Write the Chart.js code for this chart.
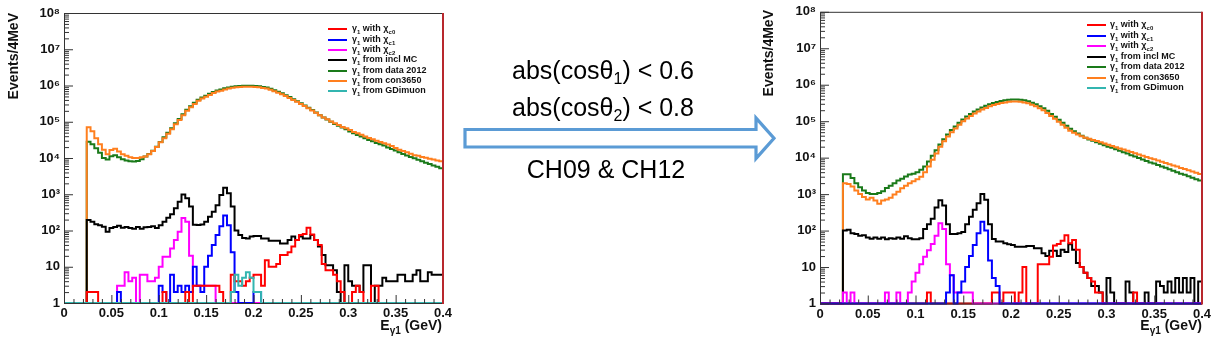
<!DOCTYPE html>
<html><head><meta charset="utf-8">
<script src="https://cdn.jsdelivr.net/npm/chart.js@4.4.1/dist/chart.umd.min.js"></script>
<style>
html,body{margin:0;padding:0;background:#fff;}
#wrap{position:relative;width:1219px;height:341px;overflow:hidden;font-family:'Liberation Sans',Arial,sans-serif;}
.pane{position:absolute;top:0;}
.ytitle{position:absolute;writing-mode:vertical-rl;transform:rotate(180deg);font:bold 14px 'Liberation Sans',Arial,sans-serif;white-space:nowrap;color:#111;}
.xtitle{position:absolute;font:bold 14px 'Liberation Sans',Arial,sans-serif;white-space:nowrap;color:#111;}
.xtitle sub{font-size:10px;vertical-align:-4px;line-height:0;}
.legline{position:absolute;height:2px;width:19px;}
.legtxt{position:absolute;font:bold 9px 'Liberation Sans',Arial,sans-serif;white-space:nowrap;color:#111;line-height:10px;}
.legtxt sub{font-size:6px;vertical-align:-3px;line-height:0;}
.note{position:absolute;font:25px 'Liberation Sans',Arial,sans-serif;line-height:25px;white-space:nowrap;transform:translateX(-50%);color:#000;}
.note sub{font-size:16px;vertical-align:-5px;line-height:0;}
</style></head>
<body><div id="wrap">
<div class="pane" style="left:0;width:460px;height:341px;"><canvas id="cL" width="460" height="341"></canvas></div>
<div class="pane" style="left:750px;width:469px;height:341px;"><canvas id="cR" width="469" height="341"></canvas></div>
<svg style="position:absolute;left:0;top:0" width="1219" height="341">
<polygon points="465,129.5 756,129.5 756,118 774,138.3 756,158.5 756,147 465,147" fill="#fff" stroke="#5b9bd5" stroke-width="3.2" stroke-linejoin="miter"/>
</svg>
<div class="note" style="left:603px;top:58px">abs(cosθ<sub>1</sub>) &lt; 0.6</div>
<div class="note" style="left:603px;top:95px">abs(cosθ<sub>2</sub>) &lt; 0.8</div>
<div class="note" style="left:606px;top:157px">CH09 &amp; CH12</div>
<div class="ytitle" style="left:5px;top:13px">Events/4MeV</div>
<div class="ytitle" style="left:760px;top:10px">Events/4MeV</div>
<div class="xtitle" style="right:777px;top:317px">E<sub>γ1</sub> (GeV)</div>
<div class="xtitle" style="right:17px;top:317px">E<sub>γ1</sub> (GeV)</div>
<div id="legL"></div><div id="legR"></div>
</div>
<script>
// ---- binning (categories) ----
const binCount = 100, xLow = 0, xHigh = 0.4;
const xTickValues = [0,0.05,0.1,0.15,0.2,0.25,0.3,0.35,0.4];
const xTickLabels = ['0','0.05','0.1','0.15','0.2','0.25','0.3','0.35','0.4'];
const yTickValues = [1,10,100,1e3,1e4,1e5,1e6,1e7,1e8];
const yTickLabels = ['1','10','10²','10³','10⁴','10⁵','10⁶','10⁷','10⁸'];
const seriesNames = ['γ1 with χc0','γ1 with χc1','γ1 with χc2','γ1 from incl MC','γ1 from data 2012','γ1 from con3650','γ1 from GDimuon'];
const legendHtml = ['γ<sub>1</sub> with χ<sub>c0</sub>','γ<sub>1</sub> with χ<sub>c1</sub>','γ<sub>1</sub> with χ<sub>c2</sub>','γ<sub>1</sub> from incl MC','γ<sub>1</sub> from data 2012','γ<sub>1</sub> from con3650','γ<sub>1</sub> from GDimuon'];

// ---- LEFT panel (before cuts) ----
const leftChic0 = [
0,0,0,0,0,0,2,2,2,0, 0,0,0,0,0,0,0,0,0,0, 0,0,0,0,0,0,2,0,0,0, 0,0,2,0,3,3,3,3,3,3,
3,2,0,0,6,4,4,3,4,5, 6,6,3,15,10,10,12,21,21,25, 36,55,75,80,120,78,55,40,12,8, 8,6,4,2,0,0,2,3,2,0,
0,3,3,0,0,0,0,0,0,0, 0,0,0,0,0,0,0,0,0,0];
const leftChic1 = [
0,0,0,0,0,0,0,0,0,0, 0,0,0,0,2,0,0,0,0,0, 0,0,0,0,0,3,2,0,6,2, 3,2,3,2,10,3,2,10,20,40,
75,130,260,140,25,2,0,0,0,0, 2,2,0,0,0,0,0,0,0,0, 0,0,0,0,0,0,0,0,0,0, 0,0,0,0,0,0,0,0,0,0,
0,0,0,0,0,0,0,0,0,0, 0,0,0,0,0,0,0,0,0,0];
const leftChic2 = [
0,0,0,0,0,0,0,0,0,0, 0,0,0,0,3,3,7,4,5,0, 6,6,4,4,5,10,19,19,32,55, 93,220,175,20,3,3,3,3,3,3,
0,0,0,0,0,0,0,0,0,0, 0,0,0,0,0,0,0,0,0,0, 0,0,0,0,0,0,0,0,0,0, 0,0,0,0,0,0,0,0,0,0,
0,0,0,0,0,0,0,0,0,0, 0,0,0,0,0,0,0,0,0,0];
const leftInclMC = [
0,0,0,0,0,0,195,175,148,140, 127,93,118,125,135,120,125,117,112,125, 112,123,125,132,117,140,175,225,280,410,
620,980,780,460,145,142,147,175,240,330, 500,950,1500,1070,460,100,75,62,60,68, 70,70,60,60,52,52,52,44,44,55,
68,55,68,60,60,75,55,36,21,11, 11,8,2,0,11,4,3,3,2,11, 11,1,3,3,5,4,4,4,6,6, 4,4,6,8,4,4,7,6,6,6];
const leftData2012 = [
0,0,0,0,0,0,28000,24000,18500,14000, 10000,9100,11200,12000,10500,9300,8500,8100,8000,8300,
9300,11000,12800,15800,20500,27500,37500,50000,66000,91000, 120000,160000,213000,268000,332000,405000,470000,525000,590000,660000,
725000,770000,835000,885000,925000,960000,970000,980000,990000,990000, 970000,950000,905000,880000,810000,735000,670000,610000,540000,480000,
420000,370000,322000,280000,242000,210000,180000,152000,132000,116000, 100000,87000,77500,69000,62000,54000,48000,43000,39000,35000,
31500,29000,26000,24000,22000,19500,17800,16200,14500,12900, 11700,10700,9800,8900,8100,7400,6800,6200,5750,5250];
const leftCon3650 = [
0,0,0,0,0,0,71000,55000,35000,24000, 17000,12600,16600,18000,15000,12600,11500,10500,10000,10000,
10500,11000,12600,15500,20000,27000,35000,47000,62000,85000, 112000,150000,200000,250000,310000,380000,440000,490000,550000,620000,
680000,720000,780000,830000,870000,900000,910000,920000,930000,930000, 910000,890000,850000,830000,760000,690000,630000,575000,510000,455000,
400000,355000,310000,270000,235000,205000,178000,151000,132000,117000, 102000,91000,81000,72000,66000,59000,52500,48000,43500,39000,
35500,33000,30000,27500,25700,23400,21400,19000,17000,15500, 14500,13200,12000,11500,10700,10200,9500,9100,8500,8100];
const leftGDimuon = [
0,0,0,0,0,0,0,0,0,0, 0,0,0,0,0,0,0,0,0,0, 0,0,0,0,0,0,0,0,0,0, 0,0,0,0,0,0,0,0,0,0,
0,0,0,0,2,6,3,5,7,5, 2,2,0,0,0,0,0,0,0,0, 0,0,0,0,0,0,0,0,0,0, 0,0,0,0,0,0,0,0,0,0,
0,0,0,0,0,0,0,0,0,0, 0,0,0,0,0,0,0,0,0,0];

// ---- RIGHT panel (abs(cosθ1)<0.6, abs(cosθ2)<0.8, CH09 & CH12) ----
const rightChic0 = [
0,0,0,0,0,0,0,0,0,0, 0,0,0,0,0,0,0,0,0,0, 0,0,0,0,0,0,0,0,2,0, 0,0,0,0,0,0,0,0,0,0,
0,0,0,0,0,2,2,0,2,2, 2,0,2,10,0,0,0,12,12,12, 19,39,43,53,75,45,55,30,10,7, 5,4,2,2,0,0,0,0,0,0,
0,0,2,0,0,0,0,0,0,0, 0,0,0,0,0,0,0,0,0,0];
const rightChic1 = [
0,0,0,0,0,0,0,0,0,0, 0,0,0,0,0,0,0,0,0,0, 0,0,0,0,0,0,0,0,0,0, 0,0,0,2,6,0,2,4,10,20,
40,85,175,100,15,5,3,0,0,0, 0,0,0,0,0,0,0,0,0,0, 0,0,0,0,0,0,0,0,0,0, 0,0,0,0,0,0,0,0,0,0,
0,0,0,0,0,0,0,0,0,0, 0,0,0,0,0,0,0,0,0,0];
const rightChic2 = [
0,0,0,0,0,0,2,0,2,0, 0,0,0,0,0,0,0,2,0,0, 2,0,0,2,4,7,12,19,29,43, 72,160,110,12,6,2,2,2,2,2,
0,0,0,0,0,0,0,0,0,0, 0,0,0,0,0,0,0,0,0,0, 0,0,0,0,0,0,0,0,0,0, 0,0,0,0,0,0,0,0,0,0,
0,0,0,0,0,0,0,0,0,0, 0,0,0,0,0,0,0,0,0,0];
const rightInclMC = [
0,0,0,0,0,0,100,105,85,80, 72,75,65,60,65,60,65,58,62,60, 65,60,70,62,58,58,62,110,150,210,
430,680,490,150,80,80,85,92,148,240, 370,560,1000,700,150,59,50,50,45,42, 40,36,36,36,38,38,33,33,24,20,
28,28,20,30,26,42,30,13,10,7, 5,3,3,2,0,5,2,0,0,0, 4,2,0,0,0,2,0,0,4,3, 2,4,2,5,2,5,2,5,0,4];
const rightData2012 = [
0,0,0,0,0,0,3500,3500,2750,2000, 1550,1250,1070,1000,1000,1070,1200,1480,1700,2000,
2350,2650,3030,3450,3600,4000,4650,5700,7800,11300, 16000,23000,32000,43000,57000,72000,91000,112000,135000,158000,
185000,210000,236000,263000,290000,316000,336000,356000,373000,390000, 395000,395000,390000,373000,353000,322000,290000,257000,228000,192000,
158000,132000,110000,91000,75000,62000,53000,46000,40000,35000, 31500,29000,26300,24000,21900,20000,18600,17000,15500,14100,
12900,11700,10700,9800,8900,8100,7400,6900,6300,5750, 5250,4800,4350,4000,3600,3400,3100,2800,2570,2350];
const rightCon3650 = [
0,0,0,0,0,0,2000,1900,1620,1250, 1000,830,710,800,670,540,670,710,800,980,
1170,1450,1700,2000,2240,2570,3000,4000,5700,8700, 13000,20000,28000,38000,50000,63000,80000,99000,119000,139000,
163000,185000,208000,231000,255000,278000,296000,313000,328000,343000, 348000,348000,343000,328000,311000,283000,255000,226000,201000,169000,
139000,116000,97000,80000,66000,55000,48000,43000,38500,35000, 33000,30700,28400,26300,24400,22500,20900,19400,17900,16600,
15400,14200,13200,12200,11300,10500,9700,9000,8300,7700, 7100,6600,6100,5700,5200,4850,4500,4150,3850,3550];
const rightGDimuon = [
0,0,0,0,0,0,0,0,0,0, 0,0,0,0,0,0,0,0,0,0, 0,0,0,0,0,0,0,0,0,0, 0,0,0,0,0,0,0,0,0,0,
0,0,0,0,0,0,0,0,0,0, 0,0,0,0,0,0,0,0,0,0, 0,0,0,0,0,0,0,0,0,0, 0,0,0,0,0,0,0,0,0,0,
0,0,0,0,0,0,0,0,0,0, 0,0,0,0,0,0,0,0,0,0];

// ---- styles ----
const seriesColors = ['#ff0000','#0000ff','#ff00ff','#000000','#1a7a1a','#ff7f1e','#33b5b0'];
const FONT = "'Liberation Sans', Arial, sans-serif";

function histPoints(vals){
  const w = (xHigh - xLow) / binCount;
  const pts = vals.map((v,i) => ({x: xLow + i*w, y: Math.max(v, 1)}));
  pts.push({x: xHigh, y: Math.max(vals[vals.length-1], 1)});
  return pts;
}

const framePlugin = {
  id: 'rootFrame',
  afterDraw(chart){
    const {ctx, chartArea:a, scales:{x, y}} = chart;
    ctx.save();
    ctx.strokeStyle = '#333'; ctx.lineWidth = 1;
    // inward ticks, x
    const xt = x.ticks.map(t => t.value);
    ctx.beginPath();
    for (let i = 0; i < xt.length; i++){
      const px = x.getPixelForValue(xt[i]);
      ctx.moveTo(px+0.5, a.bottom); ctx.lineTo(px+0.5, a.bottom-8);
      if (i < xt.length-1){
        for (let k = 1; k < 5; k++){
          const q = x.getPixelForValue(xt[i] + (xt[i+1]-xt[i])*k/5);
          ctx.moveTo(q+0.5, a.bottom); ctx.lineTo(q+0.5, a.bottom-4);
        }
      }
    }
    // inward ticks, y (log)
    const yt = y.ticks.map(t => t.value);
    for (let i = 0; i < yt.length; i++){
      const py = y.getPixelForValue(yt[i]);
      ctx.moveTo(a.left, py+0.5); ctx.lineTo(a.left+9, py+0.5);
      if (i < yt.length-1){
        for (let m = 2; m < 10; m++){
          const q = y.getPixelForValue(yt[i]*m);
          ctx.moveTo(a.left, q+0.5); ctx.lineTo(a.left+5, q+0.5);
        }
      }
    }
    ctx.stroke();
    // frame
    ctx.beginPath();
    ctx.moveTo(a.right, a.top+0.5); ctx.lineTo(a.left+0.5, a.top+0.5);
    ctx.lineTo(a.left+0.5, a.bottom+0.5); ctx.lineTo(a.right, a.bottom+0.5);
    ctx.stroke();
    ctx.strokeStyle = '#b8282d'; ctx.lineWidth = 2;
    ctx.beginPath(); ctx.moveTo(a.right, a.top); ctx.lineTo(a.right, a.bottom+1); ctx.stroke();
    ctx.restore();
  }
};

function makeChart(id, series, cfg){
  return new Chart(document.getElementById(id), {
    type: 'line',
    data: { datasets: series.map((s,k) => ({
      label: seriesNames[k], data: histPoints(s), borderColor: seriesColors[k],
      backgroundColor: seriesColors[k], borderWidth: 2, pointRadius: 0, stepped: 'before',
      fill: false, tension: 0, order: cfg.order[k], clip: 2 })) },
    options: {
      responsive: false, animation: false, devicePixelRatio: 1,
      layout: { padding: { left: 0, top: cfg.top, right: cfg.right, bottom: 0 } },
      plugins: { legend: { display: false }, tooltip: { enabled: false } },
      scales: {
        x: { type: 'linear', min: xLow, max: xHigh,
          grid: { display: false, drawTicks: false }, border: { display: false },
          afterBuildTicks: s => { s.ticks = xTickValues.map(v => ({value: v})); },
          afterFit: s => { s.height = cfg.xh; },
          ticks: { autoSkip: false, maxRotation: 0, padding: 3, color: '#111',
            font: { family: FONT, size: 13, weight: 'bold' }, callback: (v,i) => xTickLabels[i] } },
        y: { type: 'logarithmic', min: 1, max: 1e8,
          grid: { display: false, drawTicks: false }, border: { display: false },
          afterBuildTicks: s => { s.ticks = yTickValues.map(v => ({value: v})); },
          afterFit: s => { s.width = cfg.yw; },
          ticks: { autoSkip: false, padding: 4, color: '#111',
            font: { family: FONT, size: 13, weight: 'bold' }, callback: (v,i) => yTickLabels[i] } }
      }
    },
    plugins: [framePlugin]
  });
}

makeChart('cL', [leftChic0,leftChic1,leftChic2,leftInclMC,leftData2012,leftCon3650,leftGDimuon],
  { top: 13, right: 17, xh: 38, yw: 64, order: [1,2,3,4,6,5,0] });
makeChart('cR', [rightChic0,rightChic1,rightChic2,rightInclMC,rightData2012,rightCon3650,rightGDimuon],
  { top: 8.5, right: 17, xh: 37.5, yw: 70, order: [2,0,1,3,5,4,6] });

function buildLegend(el, lineX, textX, y0, dy){
  const host = document.getElementById(el);
  legendHtml.forEach((h,k) => {
    const y = y0 + k*dy;
    const ln = document.createElement('div');
    ln.className = 'legline';
    ln.style.left = lineX + 'px'; ln.style.top = (y-1) + 'px'; ln.style.background = seriesColors[k];
    host.appendChild(ln);
    const tx = document.createElement('div');
    tx.className = 'legtxt';
    tx.style.left = textX + 'px'; tx.style.top = (y-6) + 'px';
    tx.innerHTML = h;
    host.appendChild(tx);
  });
}
buildLegend('legL', 328, 352, 29.3, 10.3);
buildLegend('legR', 1087, 1110, 25, 10.55);
</script>
</body></html>
